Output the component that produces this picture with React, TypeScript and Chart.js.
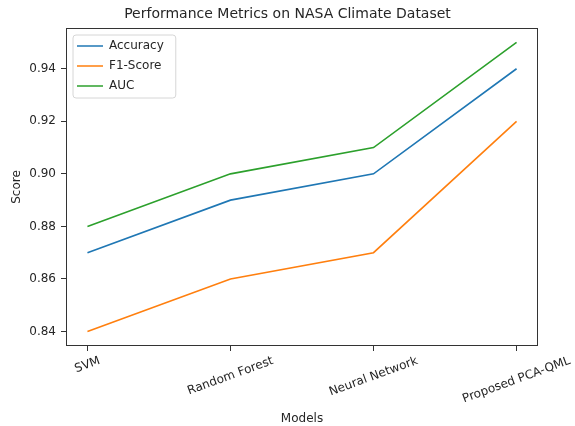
import React, { useEffect, useRef } from 'react';
import { Chart, registerables } from 'chart.js';

Chart.register(...registerables);

const models = ['SVM', 'Random Forest', 'Neural Network', 'Proposed PCA-QML'];
const accuracy = [0.87, 0.89, 0.9, 0.94];
const f1Score = [0.84, 0.86, 0.87, 0.92];
const auc = [0.88, 0.9, 0.91, 0.95];
const yTicks = [0.84, 0.86, 0.88, 0.9, 0.92, 0.94];
const seriesNames = ['Accuracy', 'F1-Score', 'AUC'];
const seriesColors = ['#1f77b4', '#ff7f0e', '#2ca02c'];
const chartTitle = 'Performance Metrics on NASA Climate Dataset';
const xTitle = 'Models';
const yTitle = 'Score';

const W = 575;
const H = 426;
const FAMILY = '"DejaVu Sans", sans-serif';
const TEXT = '#262626';
const SPINE = '#333333';

export default function App() {
  const ref = useRef<HTMLCanvasElement>(null);

  useEffect(() => {
    document.body.style.margin = '0';
    const canvas = ref.current;
    if (!canvas) return;
    const toPts = (vals: number[]) => vals.map((v, i) => ({ x: i, y: v }));
    const seriesData = [accuracy, f1Score, auc];

    const framePlugin = {
      id: 'mplFrame',
      afterLayout(chart: any) {
        const lg = chart.legend;
        const a = chart.chartArea;
        if (lg && a) {
          const w = lg.width;
          const h = lg.height;
          lg.left = a.left + 3;
          lg.right = lg.left + w;
          lg.top = a.top + 4;
          lg.bottom = lg.top + h;
        }
      },
      beforeDraw(chart: any) {
        const lg = chart.legend;
        const hbs = lg && lg.legendHitBoxes;
        if (!hbs || !hbs.length) return;
        let l = Infinity, t = Infinity, r = -Infinity, b = -Infinity;
        hbs.forEach((h: any) => {
          l = Math.min(l, h.left);
          t = Math.min(t, h.top);
          r = Math.max(r, h.left + h.width);
          b = Math.max(b, h.top + h.height);
        });
        const x0 = l - 4, y0 = t - 5, x1 = r + 12, y1 = b + 6;
        const ctx = chart.ctx;
        ctx.save();
        ctx.beginPath();
        const rad = 3;
        ctx.moveTo(x0 + rad, y0);
        ctx.lineTo(x1 - rad, y0);
        ctx.arcTo(x1, y0, x1, y0 + rad, rad);
        ctx.lineTo(x1, y1 - rad);
        ctx.arcTo(x1, y1, x1 - rad, y1, rad);
        ctx.lineTo(x0 + rad, y1);
        ctx.arcTo(x0, y1, x0, y1 - rad, rad);
        ctx.lineTo(x0, y0 + rad);
        ctx.arcTo(x0, y0, x0 + rad, y0, rad);
        ctx.closePath();
        ctx.fillStyle = 'rgba(255,255,255,0.8)';
        ctx.fill();
        ctx.strokeStyle = '#d6d6d6';
        ctx.lineWidth = 1;
        ctx.stroke();
        ctx.restore();
      },
      afterDraw(chart: any) {
        const ctx = chart.ctx;
        const a = chart.chartArea;
        ctx.save();
        ctx.strokeStyle = SPINE;
        ctx.lineWidth = 1;
        ctx.strokeRect(a.left + 0.5, a.top + 0.5, a.right - a.left - 1, a.bottom - a.top - 1);
        const xs = chart.scales.x;
        ctx.font = `12px ${FAMILY}`;
        ctx.fillStyle = TEXT;
        ctx.textAlign = 'center';
        ctx.textBaseline = 'middle';
        const ang = (20 * Math.PI) / 180;
        const lh = 14;
        xs.ticks.forEach((tk: any) => {
          const label = models[tk.value];
          if (label === undefined) return;
          const px = xs.getPixelForValue(tk.value);
          const w = ctx.measureText(label).width;
          const bh = w * Math.sin(ang) + lh * Math.cos(ang);
          const cy = a.bottom + 8 + bh / 2;
          ctx.save();
          ctx.translate(px, cy);
          ctx.rotate(-ang);
          ctx.fillText(label, 0, 0);
          ctx.restore();
        });
        ctx.restore();
      },
    };

    const tickGrid = {
      display: true,
      drawOnChartArea: false,
      drawTicks: true,
      tickLength: 5,
      tickColor: SPINE,
      tickWidth: 1,
    };

    const chart = new Chart(canvas, {
      type: 'line',
      data: {
        datasets: seriesNames.map((name, i) => ({
          label: name,
          data: toPts(seriesData[i]),
          borderColor: seriesColors[i],
          backgroundColor: seriesColors[i],
          borderWidth: 1.6,
          pointRadius: 0,
          pointHoverRadius: 0,
          tension: 0,
          fill: false,
        })),
      },
      options: {
        responsive: false,
        animation: false,
        devicePixelRatio: 1,
        layout: { padding: 0 },
        scales: {
          x: {
            type: 'linear',
            min: -0.15,
            max: 3.15,
            afterBuildTicks: (s: any) => {
              s.ticks = models.map((_, i) => ({ value: i }));
            },
            ticks: { display: false },
            grid: tickGrid,
            border: { display: false },
            title: {
              display: true,
              text: xTitle,
              color: TEXT,
              font: { size: 12, family: FAMILY },
              padding: { top: 0, bottom: 0 },
            },
            afterFit: (s: any) => {
              s.height = 80;
            },
          },
          y: {
            type: 'linear',
            min: 0.8345,
            max: 0.9555,
            afterBuildTicks: (s: any) => {
              s.ticks = yTicks.map((v) => ({ value: v }));
            },
            ticks: {
              color: TEXT,
              font: { size: 12, family: FAMILY },
              padding: 5,
              callback: (v: any) => Number(v).toFixed(2),
            },
            grid: tickGrid,
            border: { display: false },
            title: {
              display: true,
              text: yTitle,
              color: TEXT,
              font: { size: 12, family: FAMILY },
              padding: { top: 10, bottom: 0 },
            },
            afterFit: (s: any) => {
              s.width = 66;
            },
          },
          yRight: {
            axis: 'y',
            position: 'right',
            display: true,
            grid: { display: false },
            ticks: { display: false },
            border: { display: false },
            afterFit: (s: any) => {
              s.width = 37;
            },
          },
        },
        plugins: {
          title: {
            display: true,
            text: chartTitle,
            color: TEXT,
            font: { size: 14, family: FAMILY, weight: 'normal' },
            padding: { top: 5.6, bottom: 5.6 },
          },
          legend: {
            position: 'chartArea',
            align: 'start',
            labels: {
              usePointStyle: true,
              pointStyle: 'line',
              pointStyleWidth: 26,
              padding: 8,
              color: TEXT,
              font: { size: 12, family: FAMILY },
            },
          },
          tooltip: { enabled: false },
        },
      } as any,
      plugins: [framePlugin],
    });

    return () => {
      chart.destroy();
    };
  }, []);

  return (
    <div style={{ width: W, height: H }}>
      <canvas ref={ref} width={W} height={H} style={{ display: 'block', width: W, height: H }} />
    </div>
  );
}
